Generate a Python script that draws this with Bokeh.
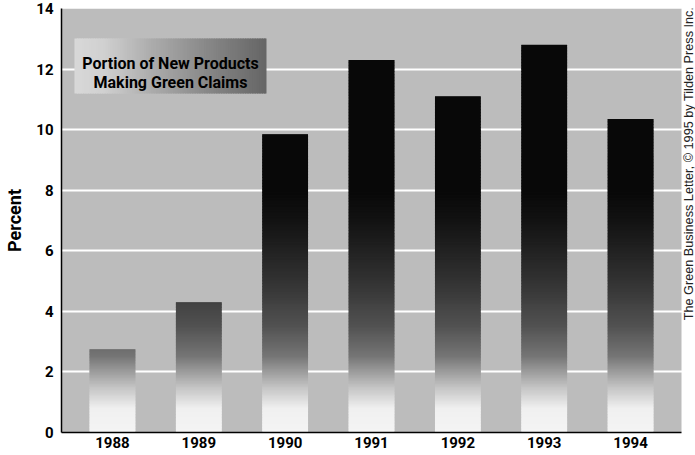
import numpy as np
from bokeh.plotting import figure
from bokeh.models import Range1d, FixedTicker, Label, ColumnDataSource
from bokeh.embed import file_html
from bokeh.resources import INLINE

# --- data -------------------------------------------------------------
years = ["1988", "1989", "1990", "1991", "1992", "1993", "1994"]
percent = [2.75, 4.3, 9.85, 12.3, 11.1, 12.8, 10.35]
y_ticks = [0, 2, 4, 6, 8, 10, 12, 14]
title_lines = ["Portion of New Products", "Making Green Claims"]
credit = "The Green Business Letter, \u00a9 1995 by Tilden Press Inc."

FONT = "Roboto"
BAR_W = 0.53
X0, X1 = -0.59, 6.59      # extent of the shaded plotting panel
Y0, Y1 = 0, 14


def gray(level):
    g = int(round(level))
    return "#%02x%02x%02x" % (g, g, g)


# the frame runs to the right edge so the credit line can sit inside it
p = figure(width=695, height=455, output_backend="svg", toolbar_location=None,
           x_range=Range1d(X0, 6.752), y_range=Range1d(Y0, Y1),
           min_border_left=61, min_border_right=0,
           min_border_top=8, min_border_bottom=23)

p.background_fill_color = "white"
p.border_fill_color = "white"
p.outline_line_color = None

# grey panel behind grid and bars
p.quad(left=[X0], right=[X1], bottom=[Y0], top=[Y1], fill_color="#bcbcbc",
       line_color=None, level="image")

# --- bars: vertical gradient from near-white at the base to black ------
stops_v = [0.0, 0.8, 1.5, 2.5, 3.5, 5.0, 7.0, 8.0]
stops_g = [244, 240, 195, 118, 82, 50, 18, 8]
step = 0.05
left, right, bottom, top, color = [], [], [], [], []
for i, v in enumerate(percent):
    for lv in np.arange(0, v, step):
        left.append(i - BAR_W / 2)
        right.append(i + BAR_W / 2)
        bottom.append(lv)
        top.append(min(lv + step * 1.8, v))
        color.append(gray(np.interp(lv + step / 2, stops_v, stops_g)))
bars = ColumnDataSource(dict(left=left, right=right, bottom=bottom, top=top, color=color))
p.quad(left="left", right="right", bottom="bottom", top="top", source=bars,
       fill_color="color", line_color=None)

# --- title box with horizontal gradient --------------------------------
bx0, bx1, by0, by1 = -0.44, 1.784, 11.19, 13.01
n = 80
xs = np.linspace(bx0, bx1, n + 1)
box = ColumnDataSource(dict(
    left=xs[:-1], right=np.minimum(xs[1:] + (xs[1] - xs[0]) * 0.6, bx1),
    bottom=[by0] * n, top=[by1] * n,
    color=[gray(np.interp(t, [0, 0.15, 0.4, 0.7, 1.0], [216, 208, 172, 135, 102]))
           for t in np.linspace(0, 1, n)]))
p.quad(left="left", right="right", bottom="bottom", top="top", source=box,
       fill_color="color", line_color=None)

cx = (bx0 + bx1) / 2
for txt, yy in zip(title_lines, [12.18, 11.56]):
    p.add_layout(Label(x=cx, y=yy, text=txt, text_align="center", text_baseline="alphabetic",
                       text_font=FONT, text_font_style="bold", text_font_size="16px",
                       text_color="black"))

# --- credit line along the right edge ----------------------------------
p.add_layout(Label(x=6.671, y=8.88, text=credit, angle=np.pi / 2,
                   text_align="center", text_baseline="middle",
                   text_font="Liberation Sans", text_font_size="12.7px",
                   text_color="#222222"))

# --- axes and grid ------------------------------------------------------
p.xaxis.ticker = FixedTicker(ticks=list(range(len(years))))
p.xaxis.major_label_overrides = {i: y for i, y in enumerate(years)}
p.xaxis.bounds = (X0, X1)
p.yaxis.ticker = FixedTicker(ticks=y_ticks)
p.yaxis.axis_label = "Percent"

for ax in (p.xaxis[0], p.yaxis[0]):
    ax.major_tick_line_color = None
    ax.minor_tick_line_color = None
    ax.major_tick_out = 0
    ax.major_tick_in = 0
    ax.minor_tick_out = 0
    ax.minor_tick_in = 0
    ax.axis_line_color = "black"
    ax.axis_line_width = 1.5
    ax.major_label_text_font = FONT
    ax.major_label_text_font_style = "bold"
    ax.major_label_text_font_size = "15px"
    ax.major_label_text_color = "black"

p.xaxis.major_label_standoff = 4
p.yaxis.major_label_standoff = 8
p.yaxis.axis_label_text_font = FONT
p.yaxis.axis_label_text_font_style = "bold"
p.yaxis.axis_label_text_font_size = "18px"
p.yaxis.axis_label_text_color = "black"
p.yaxis.axis_label_standoff = 8

p.xgrid.grid_line_color = None
p.ygrid.ticker = FixedTicker(ticks=[2, 4, 6, 8, 10, 12])
p.ygrid.grid_line_color = "white"
p.ygrid.grid_line_width = 2

open("out.html", "w").write(file_html(p, INLINE))
